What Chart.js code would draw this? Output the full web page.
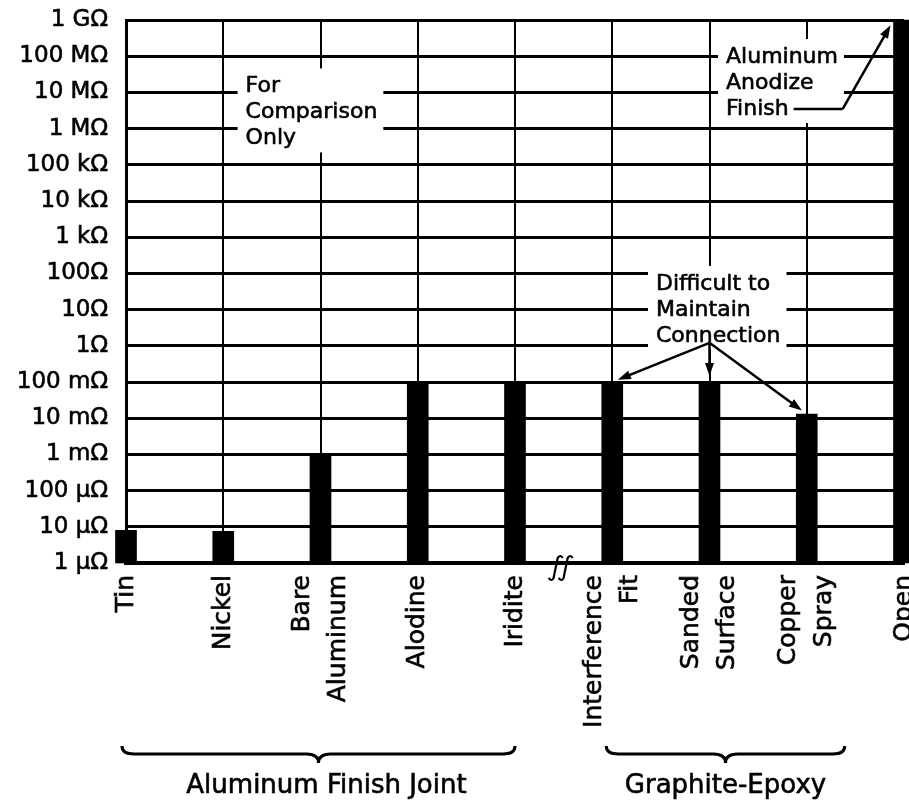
<!DOCTYPE html>
<html>
<head>
<meta charset="utf-8">
<title>Joint resistance by surface finish</title>
<script src="https://cdn.jsdelivr.net/npm/chart.js@4.4.1/dist/chart.umd.min.js"></script>
<style>
    html, body { margin: 0; padding: 0; background: #fff; }
</style>
</head>
<body>
<canvas id="resistanceChart" width="909" height="800"></canvas>
<script>
// categories along the bottom, left to right
const categories = [
    'Tin', 'Nickel', ['Bare', 'Aluminum'], 'Alodine', 'Iridite',
    ['Interference', 'Fit'], ['Sanded', 'Surface'], ['Copper', 'Spray'], 'Open'
];

// joint resistance in ohms
const resistance = [8e-6, 7.5e-6, 1e-3, 0.1, 0.1, 0.1, 0.1, 0.013, 1e9];

// y axis ticks, bottom to top
const yTickValues = [1e-6, 1e-5, 1e-4, 1e-3, 1e-2, 1e-1, 1, 10, 100, 1e3, 1e4, 1e5, 1e6, 1e7, 1e8, 1e9];
const yTickLabels = [
    '1 μΩ', '10 μΩ', '100 μΩ', '1 mΩ', '10 mΩ', '100 mΩ', '1Ω', '10Ω', '100Ω',
    '1 kΩ', '10 kΩ', '100 kΩ', '1 MΩ', '10 MΩ', '100 MΩ', '1 GΩ'
];

// category groups under the braces
const groupLabels = ['Aluminum Finish Joint', 'Graphite-Epoxy'];
const groupFirst = [0, 5];
const groupLast = [4, 7];

const FONT = "'DejaVu Sans', 'Liberation Sans', sans-serif";
const INK = 0.6; // extra stroke so the type reads as heavy as the scan

function arrowTo(ctx, x0, y0, x1, y1) {
    const a = Math.atan2(y1 - y0, x1 - x0);
    const len = 13, half = 4.5;
    ctx.beginPath();
    ctx.moveTo(x0, y0);
    ctx.lineTo(x1 - (len - 2) * Math.cos(a), y1 - (len - 2) * Math.sin(a));
    ctx.stroke();
    ctx.beginPath();
    ctx.moveTo(x1, y1);
    ctx.lineTo(x1 - len * Math.cos(a) + half * Math.sin(a), y1 - len * Math.sin(a) - half * Math.cos(a));
    ctx.lineTo(x1 - len * Math.cos(a) - half * Math.sin(a), y1 - len * Math.sin(a) + half * Math.cos(a));
    ctx.closePath();
    ctx.fill();
}

// pull a point back along the line towards (fx, fy)
function pullBack(tx, ty, fx, fy, d) {
    const l = Math.hypot(fx - tx, fy - ty);
    return [tx + (fx - tx) / l * d, ty + (fy - ty) / l * d];
}

function inkText(ctx, text, x, y) {
    ctx.save();
    ctx.lineWidth = INK;
    ctx.lineJoin = 'round';
    ctx.strokeText(text, x, y);
    ctx.restore();
    ctx.fillText(text, x, y);
}

// one "ʃ" style break stroke
function breakStroke(ctx, cx, cy) {
    ctx.beginPath();
    ctx.moveTo(cx + 7, cy - 10);
    ctx.quadraticCurveTo(cx + 5, cy - 14, cx + 2, cy - 10);
    ctx.bezierCurveTo(cx + 1, cy - 4, cx - 1, cy + 4, cx - 2, cy + 10);
    ctx.quadraticCurveTo(cx - 4, cy + 14, cx - 7, cy + 10);
    ctx.stroke();
}

// rotated two-line labels: centre the block on the tick, not the first line
const centreLabels = {
    id: 'centreLabels',
    beforeDraw(chart) {
        const xs = chart.scales.x;
        const items = xs.getLabelItems(chart.chartArea);
        if (items._centred) return;
        items.forEach(item => {
            const n = Array.isArray(item.label) ? item.label.length : 1;
            if (n > 1) item.options.translation[0] -= (n - 1) * item.font.lineHeight / 2;
        });
        items._centred = true;
    }
};

const figureNotes = {
    id: 'figureNotes',

    blocks(chart, opts) {
        const ctx = chart.ctx;
        const xs = chart.scales.x, ys = chart.scales.y;
        ctx.save();
        ctx.font = opts.font;
        const out = opts.notes.map(note => {
            const x = xs.getPixelForValue(note.x);
            const base = ys.getPixelForValue(note.y);
            const widths = note.lines.map(l => ctx.measureText(l).width);
            const last = base + (note.lines.length - 1) * opts.lineGap;
            return { note, x, base, last, widths, width: Math.max(...widths) };
        });
        ctx.restore();
        return out;
    },

    beforeDatasetsDraw(chart, args, opts) {
        // the grid is broken where the notes sit
        const ctx = chart.ctx;
        ctx.save();
        ctx.fillStyle = '#fff';
        this.blocks(chart, opts).forEach(b => {
            const top = b.base - 24, bottom = b.last + 8;
            ctx.fillRect(b.x - 8, top, b.width + 14, bottom - top);
        });
        ctx.restore();
    },

    afterDraw(chart, args, opts) {
        const ctx = chart.ctx;
        const xs = chart.scales.x, ys = chart.scales.y;
        const bars = chart.getDatasetMeta(0).data;
        const area = chart.chartArea;

        ctx.save();
        ctx.fillStyle = '#000';
        ctx.strokeStyle = '#000';
        ctx.lineWidth = 2.5;
        ctx.font = opts.font;
        ctx.textBaseline = 'alphabetic';

        this.blocks(chart, opts).forEach(b => {
            b.note.lines.forEach((line, i) => inkText(ctx, line, b.x, b.base + i * opts.lineGap));
            const lead = b.note.leader;
            if (lead) {
                const sx = b.x + b.widths[b.widths.length - 1] + 5;
                const sy = b.last - 6;
                const ex = xs.getPixelForValue(lead.elbowX);
                const bar = bars[lead.toBar];
                const [tx, ty] = pullBack(bar.x - bar.width / 2, bar.y, ex, sy, 6);
                ctx.beginPath();
                ctx.moveTo(sx, sy);
                ctx.lineTo(ex, sy);
                ctx.stroke();
                arrowTo(ctx, ex, sy, tx, ty);
            }
            const fan = b.note.fan;
            if (fan) {
                const ox = xs.getPixelForValue(fan.fromX);
                const oy = ys.getPixelForValue(fan.fromY) - 3;
                fan.toBars.forEach(i => {
                    const [tx, ty] = pullBack(bars[i].x, bars[i].y, ox, oy, 6);
                    arrowTo(ctx, ox, oy, tx, ty);
                });
            }
        });

        // axis break mark between the two groups
        const bx = (xs.getPixelForValue(4) + xs.getPixelForValue(5)) / 2;
        ctx.lineWidth = 2.2;
        breakStroke(ctx, bx - 8, area.bottom + 5);
        breakStroke(ctx, bx + 2, area.bottom + 5);

        // braces and group names
        const top = area.bottom + 183, mid = top + 8, tip = mid + 9, r = 12;
        ctx.lineWidth = 3;
        ctx.font = opts.groupFont;
        ctx.textAlign = 'center';
        ctx.textBaseline = 'middle';
        groupLabels.forEach((name, g) => {
            const x1 = xs.getPixelForValue(groupFirst[g]) - opts.braceOverhang[g][0];
            const x2 = xs.getPixelForValue(groupLast[g]) + opts.braceOverhang[g][1];
            const cx = (x1 + x2) / 2;
            ctx.beginPath();
            ctx.moveTo(x1, top);
            ctx.quadraticCurveTo(x1, mid, x1 + r, mid);
            ctx.lineTo(cx - r, mid);
            ctx.quadraticCurveTo(cx, mid, cx, tip);
            ctx.quadraticCurveTo(cx, mid, cx + r, mid);
            ctx.lineTo(x2 - r, mid);
            ctx.quadraticCurveTo(x2, mid, x2, top);
            ctx.stroke();
            inkText(ctx, name, cx + opts.groupShift[g], tip + 23);
        });
        ctx.restore();
    }
};

new Chart(document.getElementById('resistanceChart'), {
    type: 'bar',
    data: {
        labels: categories,
        datasets: [{
            data: resistance,
            backgroundColor: '#000',
            borderWidth: 0,
            barThickness: 21,
            clip: false
        }]
    },
    options: {
        responsive: false,
        devicePixelRatio: 1,
        animation: false,
        events: [],
        layout: { padding: { top: 20, right: 5, bottom: 0, left: 0 } },
        plugins: {
            legend: { display: false },
            tooltip: { enabled: false },
            figureNotes: {
                font: `22px ${FONT}`,
                groupFont: `26px ${FONT}`,
                lineGap: 26,
                braceOverhang: [[4, 0], [6, 38]],
                groupShift: [8, 0],
                notes: [
                    { lines: ['For', 'Comparison', 'Only'], x: 1.23, y: 1e7 },
                    { lines: ['Aluminum', 'Anodize', 'Finish'], x: 6.17, y: 6.5e7,
                      leader: { elbowX: 7.37, toBar: 8 } },
                    { lines: ['Difficult to', 'Maintain', 'Connection'], x: 5.45, y: 35,
                      fan: { fromX: 6, fromY: 1, toBars: [5, 6, 7] } }
                ]
            }
        },
        scales: {
            x: {
                offset: false,
                grid: { color: '#000', lineWidth: 2, offset: false, drawTicks: false },
                border: { color: '#000', width: 4 },
                ticks: {
                    color: '#000',
                    textStrokeColor: '#000',
                    textStrokeWidth: INK,
                    font: { family: FONT, size: 25, lineHeight: 1.45 },
                    minRotation: 90,
                    maxRotation: 90,
                    autoSkip: false,
                    padding: 12
                },
                afterFit: s => {
                    s.height = 237;
                    s.paddingLeft = 0;
                    s.paddingRight = 0;
                }
            },
            y: {
                type: 'logarithmic',
                min: 1e-6,
                max: 1e9,
                grid: { color: '#000', lineWidth: 3, drawTicks: false },
                border: { color: '#000', width: 3 },
                afterBuildTicks: s => {
                    s.ticks = yTickValues.map(v => ({ value: v }));
                },
                ticks: {
                    color: '#000',
                    textStrokeColor: '#000',
                    textStrokeWidth: INK,
                    font: { family: FONT, size: 23 },
                    padding: 18,
                    autoSkip: false,
                    callback: (v, i) => yTickLabels[i]
                },
                afterFit: s => {
                    s.width = 126;
                    s.paddingTop = 0;
                    s.paddingBottom = 0;
                }
            }
        }
    },
    plugins: [centreLabels, figureNotes]
});
</script>
</body>
</html>
